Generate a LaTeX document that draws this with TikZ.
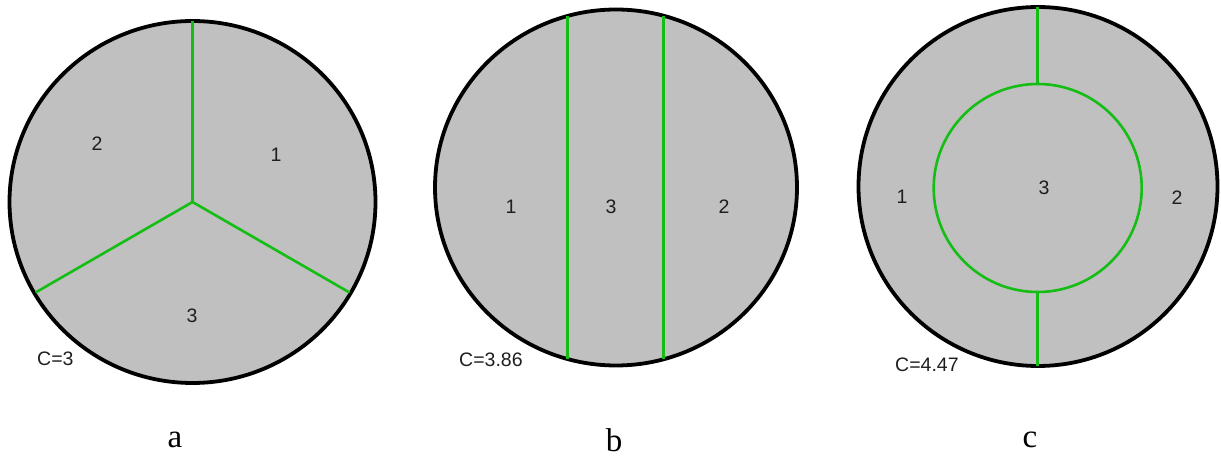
\documentclass[tikz,border=0pt]{standalone}
\usepackage{fontspec}
\setmainfont{Liberation Serif}
\newfontfamily\labelfont{Liberation Sans}
\usepackage{tikz}
\definecolor{diskgray}{RGB}{192,192,192}
\definecolor{cutgreen}{RGB}{20,190,20}
\definecolor{labelgray}{RGB}{30,30,30}

\begin{document}
\begin{tikzpicture}[x=1pt, y=-1pt,
  disk/.style={draw=black, fill=diskgray, line width=3.8pt},
  cut/.style={draw=cutgreen, line width=2.6pt},
  region/.style={inner sep=0pt, text=labelgray, font=\labelfont\fontsize{19.5}{21}\selectfont},
  cost/.style={anchor=west, inner sep=0pt, text=labelgray, font=\labelfont\fontsize{19.5}{21}\selectfont},
  caption/.style={inner sep=0pt, font=\fontsize{33}{35}\selectfont}
]
\useasboundingbox (0,0) rectangle (1221,457);

% --------- DISK a ----------
\coordinate (Oa) at (192.5,202);
\draw[disk] (Oa) ellipse [x radius=183, y radius=181];
\coordinate (Ta) at (192.5,21);
\coordinate (La) at (35.5,292.5);
\coordinate (Ra) at (349.5,292.5);
\draw[cut] (Oa) -- (Ta);
\draw[cut] (Oa) -- (La);
\draw[cut] (Oa) -- (Ra);

\node[region] (a1) at (276,155) {1};
\node[region] (a2) at (97,144) {2};
\node[region] (a3) at (192,316) {3};
\node[cost] (ca) at (37,359) {C=3};
\node[caption] (sa) at (175,440) {a};

% --------- DISK b ----------
\coordinate (Ob) at (616,187.5);
\draw[disk] (Ob) ellipse [x radius=181, y radius=178];
\coordinate (Tb1) at (567.5,16);
\coordinate (Bb1) at (567.5,359);
\coordinate (Tb2) at (663.5,16);
\coordinate (Bb2) at (663.5,359);
\draw[cut] (Tb1) -- (Bb1);
\draw[cut] (Tb2) -- (Bb2);

\node[region] (b1) at (511,207) {1};
\node[region] (b3) at (611,207) {3};
\node[region] (b2) at (724,207) {2};
\node[cost] (cb) at (459,360) {C=3.86};
\node[caption] (sb) at (614,440) {b};

% --------- DISK c ----------
\coordinate (Oc) at (1038,186.5);
\draw[disk] (Oc) circle [radius=179.5];
\draw[cut] (1037.7,188) circle [radius=104];
\coordinate (Tc) at (1037.7,7);
\coordinate (Ic) at (1037.7,84);
\coordinate (Jc) at (1037.7,292);
\coordinate (Bc) at (1037.7,366);
\draw[cut] (Tc) -- (Ic);
\draw[cut] (Jc) -- (Bc);

\node[region] (c1) at (902,197) {1};
\node[region] (c3) at (1044,188) {3};
\node[region] (c2) at (1177,198) {2};
\node[cost] (cc) at (895,365) {C=4.47};
\node[caption] (sc) at (1030,440) {c};

\end{tikzpicture}
\end{document}
